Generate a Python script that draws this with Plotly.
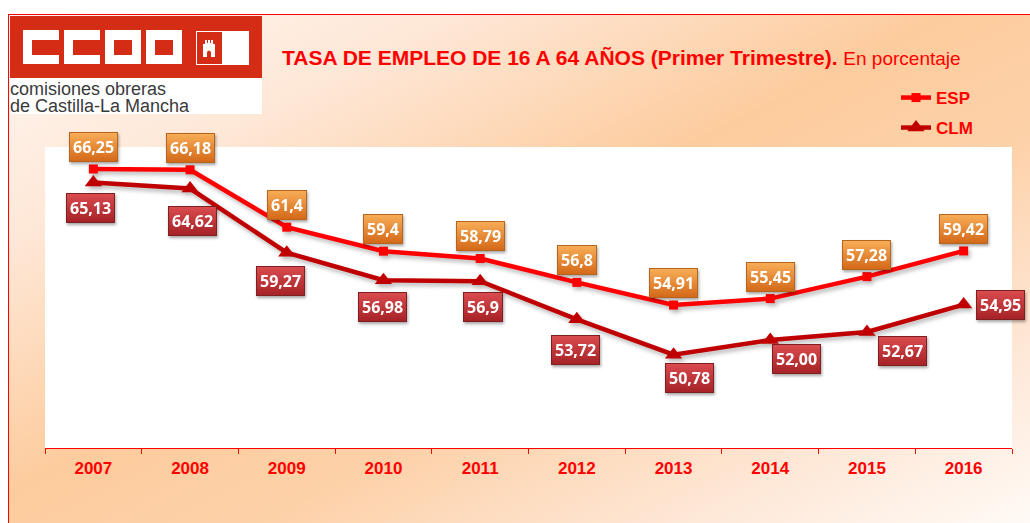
import base64
import plotly.graph_objects as go

# ---------------- data ----------------
years = ["2007", "2008", "2009", "2010", "2011", "2012", "2013", "2014", "2015", "2016"]
esp = [66.25, 66.18, 61.4, 59.4, 58.79, 56.8, 54.91, 55.45, 57.28, 59.42]
clm = [65.13, 64.62, 59.27, 56.98, 56.9, 53.72, 50.78, 52.00, 52.67, 54.95]
esp_labels = ["66,25", "66,18", "61,4", "59,4", "58,79", "56,8", "54,91", "55,45", "57,28", "59,42"]
clm_labels = ["65,13", "64,62", "59,27", "56,98", "56,9", "53,72", "50,78", "52,00", "52,67", "54,95"]

# ---------------- style ----------------
W, H = 1030, 523
ML, MR, MT, MB = 45, 18, 147, 75
PW, PH = W - ML - MR, H - MT - MB
YRANGE = [43.0, 68.08]

# label box offsets (screen px, dx right, dy down) as placed in the original
esp_off = [(0, -22)] * 10
clm_off = [(-3, 26), (2, 32), (-6, 28), (-1, 27), (3, 26), (-1, 31),
           (16, 23), (26, 19), (36, 19), (37, 0)]


def px_x(x):
    return (x - ML) / PW


def px_y(y):
    return (H - MB - y) / PH


svg = f'''<svg xmlns="http://www.w3.org/2000/svg" width="{W}" height="{H}" viewBox="0 0 {W} {H}" preserveAspectRatio="none">
<defs>
<linearGradient id="g" x1="0" y1="0" x2="1" y2="1">
<stop offset="0" stop-color="#FFF7F2"/>
<stop offset="0.22" stop-color="#FEE7D6"/>
<stop offset="0.45" stop-color="#FDCC9E"/>
<stop offset="0.6" stop-color="#FDD1A8"/>
<stop offset="0.8" stop-color="#FEE7D6"/>
<stop offset="1" stop-color="#FFFDFB"/>
</linearGradient>
</defs>
<rect x="0" y="0" width="{W}" height="{H}" fill="#FFFFFF"/>
<rect x="8.5" y="14.5" width="1040" height="530" fill="url(#g)" stroke="#FF0000" stroke-width="1"/>
<rect x="{ML}" y="{MT}" width="{PW}" height="{PH}" fill="#FFFFFF"/>
<rect x="10" y="78" width="252" height="36" fill="#FFFFFF"/>
<rect x="10" y="16" width="252" height="62" fill="#D52D15"/>
<rect x="23" y="30" width="36" height="34" fill="#FFFFFF"/>
<rect x="32" y="40" width="27" height="15" fill="#D52D15"/>
<rect x="64" y="30" width="36" height="34" fill="#FFFFFF"/>
<rect x="73" y="40" width="27" height="15" fill="#D52D15"/>
<rect x="105" y="30" width="36" height="34" fill="#FFFFFF"/>
<rect x="114" y="40" width="18" height="15" fill="#D52D15"/>
<rect x="146" y="30" width="36" height="34" fill="#FFFFFF"/>
<rect x="155" y="40" width="18" height="15" fill="#D52D15"/>
<rect x="196" y="31" width="53" height="34" fill="#FFFFFF"/>
<rect x="197" y="32" width="25" height="32" fill="#D52D15"/>
<path d="M203 57 V44 H205 V40 H207 V43 H208 V40 H210 V43 H211 V40 H213 V44 H215 V57 H211 V52 Q209 49 207 52 V57 Z" fill="#FFFFFF"/>
</svg>'''
bg_uri = "data:image/svg+xml;base64," + base64.b64encode(svg.encode()).decode()

fig = go.Figure()

fig.add_trace(go.Scatter(
    x=years, y=esp, name="ESP", mode="lines+markers",
    line=dict(color="#FF0000", width=4.5),
    marker=dict(symbol="square", size=9, color="#FF0000"),
    legend="legend",
))
fig.add_trace(go.Scatter(
    x=years, y=clm, name="CLM", mode="lines+markers",
    line=dict(color="#C00000", width=4.5),
    marker=dict(symbol="triangle-up", size=15, color="#C00000"),
    legend="legend2",
))

annotations = []
lab_font = dict(family="Open Sans, Lato, sans-serif", size=16, color="#FFFFFF")
for i, (v, t, (dx, dy)) in enumerate(zip(esp, esp_labels, esp_off)):
    annotations.append(dict(
        x=i, y=v, xref="x", yref="y", text="<b>" + t + "</b>", showarrow=False,
        xshift=dx, yshift=-dy, font=lab_font,
        bgcolor="#EB8A2E", bordercolor="#B5651D", borderwidth=1, borderpad=3,
        xanchor="center", yanchor="middle",
    ))
for i, (v, t, (dx, dy)) in enumerate(zip(clm, clm_labels, clm_off)):
    annotations.append(dict(
        x=i, y=v, xref="x", yref="y", text="<b>" + t + "</b>", showarrow=False,
        xshift=dx, yshift=-dy, font=lab_font,
        bgcolor="#C03538", bordercolor="#7F1F1F", borderwidth=1, borderpad=3,
        xanchor="center", yanchor="middle",
    ))

# title
annotations.append(dict(
    xref="paper", yref="paper", x=px_x(280), y=px_y(57),
    xanchor="left", yanchor="middle", showarrow=False,
    text="<b>TASA DE EMPLEO DE 16 A 64 AÑOS (Primer Trimestre).</b> <span style='font-size:19px'>En porcentaje</span>",
    font=dict(family="Liberation Sans, Arial, sans-serif", size=21, color="#FF0000"),
))
# logo caption
for txt, yy in [("comisiones obreras", 89), ("de Castilla-La Mancha", 106)]:
    annotations.append(dict(
        xref="paper", yref="paper", x=px_x(8), y=px_y(yy),
        xanchor="left", yanchor="middle", showarrow=False, text=txt,
        font=dict(family="Liberation Sans, Arial, sans-serif", size=18, color="#3A3A3A"),
    ))

leg_font = dict(family="Liberation Sans, Arial, sans-serif", size=17, color="#FF0000", weight="bold")
fig.update_layout(
    width=W, height=H, autosize=False,
    margin=dict(l=ML, r=MR, t=MT, b=MB, pad=0),
    paper_bgcolor="#FFFFFF", plot_bgcolor="#FFFFFF",
    showlegend=True,
    legend=dict(x=px_x(896), y=px_y(98), xanchor="left", yanchor="middle",
                font=leg_font, bgcolor="rgba(0,0,0,0)", borderwidth=0, itemwidth=30),
    legend2=dict(x=px_x(896), y=px_y(128), xanchor="left", yanchor="middle",
                 font=leg_font, bgcolor="rgba(0,0,0,0)", borderwidth=0, itemwidth=30),
    xaxis=dict(type="category", range=[-0.5, 9.5], showline=True, linecolor="#FF0000", linewidth=1,
               ticks="outside", tickson="boundaries", ticklen=5, tickcolor="#FF0000", tickwidth=1,
               ticklabelstandoff=5,
               showgrid=False, zeroline=False, fixedrange=True,
               tickfont=dict(family="Liberation Sans, Arial, sans-serif", size=17, color="#FF0000", weight="bold")),
    yaxis=dict(range=YRANGE, showline=False, showgrid=False, zeroline=False,
               showticklabels=False, ticks="", fixedrange=True),
    annotations=annotations,
    images=[dict(source=bg_uri, xref="paper", yref="paper", x=px_x(0), y=px_y(0),
                 sizex=W / PW, sizey=H / PH, xanchor="left", yanchor="top",
                 sizing="stretch", layer="below")],
)

post = """
document.body.style.margin='0';document.body.style.overflow='hidden';
(function(){
  var gd = document.getElementById('{plot_id}');
  var ns = 'http://www.w3.org/2000/svg';
  function deco(){
    var svg = gd.querySelector('svg.main-svg');
    if(!svg) return;
    var defs = svg.querySelector('defs');
    if(!defs){ defs = document.createElementNS(ns,'defs'); svg.insertBefore(defs, svg.firstChild); }
    function grad(id, c1, c2){
      if(document.getElementById(id)) return;
      var g = document.createElementNS(ns,'linearGradient');
      g.setAttribute('id', id); g.setAttribute('x1','0'); g.setAttribute('y1','0');
      g.setAttribute('x2','0'); g.setAttribute('y2','1');
      [[0,c1],[1,c2]].forEach(function(s){
        var st = document.createElementNS(ns,'stop');
        st.setAttribute('offset', s[0]); st.setAttribute('stop-color', s[1]); g.appendChild(st);
      });
      defs.appendChild(g);
    }
    grad('gO', '#F8AE58', '#D36818');
    grad('gR', '#DA4C4F', '#A52226');
    gd.querySelectorAll('.annotation rect.bg').forEach(function(r){
      var f = r.style.fill || '';
      var id = null;
      if(f.indexOf('235, 138, 46') >= 0) id = 'gO';
      else if(f.indexOf('192, 53, 56') >= 0) id = 'gR';
      if(id){
        r.style.fill = 'url(#' + id + ')';
        var grp = r.parentNode;
        grp.style.filter = 'drop-shadow(1px 2px 1.5px rgba(0,0,0,0.35))';
      }
    });
    gd.querySelectorAll('.scatterlayer .trace').forEach(function(t){
      t.style.filter = 'drop-shadow(2px 3px 2px rgba(0,0,0,0.28))';
    });
  }
  deco();
  if(gd.on) gd.on('plotly_afterplot', deco);
})();
"""

fig.write_html("out.html", config={"displayModeBar": False}, post_script=post)
